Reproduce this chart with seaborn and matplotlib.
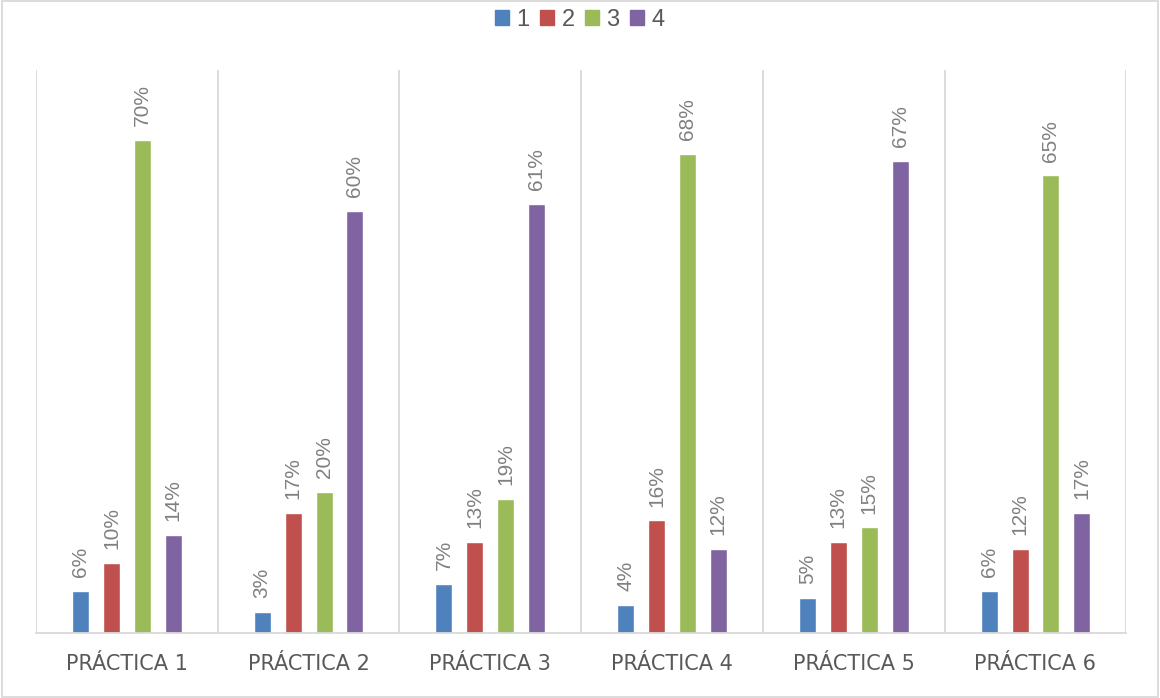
import matplotlib.pyplot as plt
import matplotlib.patches as mpatches
from matplotlib.ticker import FixedLocator
import pandas as pd
import seaborn as sns

categories = ['PRÁCTICA 1', 'PRÁCTICA 2', 'PRÁCTICA 3', 'PRÁCTICA 4', 'PRÁCTICA 5', 'PRÁCTICA 6']
series_names = ['1', '2', '3', '4']
s1 = [0.06, 0.03, 0.07, 0.04, 0.05, 0.06]
s2 = [0.10, 0.17, 0.13, 0.16, 0.13, 0.12]
s3 = [0.70, 0.20, 0.19, 0.68, 0.15, 0.65]
s4 = [0.14, 0.60, 0.61, 0.12, 0.67, 0.17]
colors = ['#4F81BD', '#C0504D', '#9BBB59', '#8064A2']

rows = []
for name, vals in zip(series_names, [s1, s2, s3, s4]):
    for cat, v in zip(categories, vals):
        rows.append({'practica': cat, 'serie': name, 'valor': v})
df = pd.DataFrame(rows)

sns.set_style('white')
plt.rcParams['font.family'] = ['Liberation Sans', 'DejaVu Sans']

fig, ax = plt.subplots(figsize=(11.6, 6.98), dpi=100)
fig.subplots_adjust(left=0.031, right=0.971, top=0.9, bottom=0.093)

sns.barplot(ax=ax, data=df, x='practica', y='valor', hue='serie', order=categories,
            hue_order=series_names, palette=colors, width=0.68, gap=0.45,
            saturation=1, errorbar=None, legend=False)

for cont in ax.containers:
    ax.bar_label(cont, labels=[f'{v*100:.0f}%' for v in cont.datavalues],
                 rotation=90, padding=10, color='#808080', fontsize=15,
                 family=['Liberation Sans', 'DejaVu Sans'])

ax.set_ylim(0, 0.8)
ax.set_xlim(-0.5, len(categories) - 0.5)
ax.set_yticks([])
ax.set_xlabel('')
ax.set_ylabel('')
ax.xaxis.set_minor_locator(FixedLocator([i - 0.5 for i in range(len(categories) + 1)]))
ax.grid(which='minor', axis='x', color='#D9D9D9', lw=1.3)
ax.tick_params(axis='x', which='both', length=0, labelsize=15, labelcolor='#595959', pad=15)
for lbl in ax.get_xticklabels():
    lbl.set_fontfamily('DejaVu Sans')
for side in ['top', 'left', 'right']:
    ax.spines[side].set_visible(False)
ax.spines['bottom'].set_color('#D9D9D9')
ax.spines['bottom'].set_linewidth(1.3)

handles = [mpatches.Patch(color=c, label=n) for c, n in zip(colors, series_names)]
fig.legend(handles=handles, loc='upper center', bbox_to_anchor=(0.5, 1.018), ncol=4,
           frameon=False, fontsize=17, labelcolor='#595959', handlelength=0.6,
           handleheight=0.6, handletextpad=0.3, columnspacing=0.45)

fig.patches.append(mpatches.Rectangle((0.002, 0.002), 0.996, 0.996, transform=fig.transFigure,
                                      fill=False, edgecolor='#D9D9D9', lw=1.3))

fig.savefig('out.png', dpi=100)
